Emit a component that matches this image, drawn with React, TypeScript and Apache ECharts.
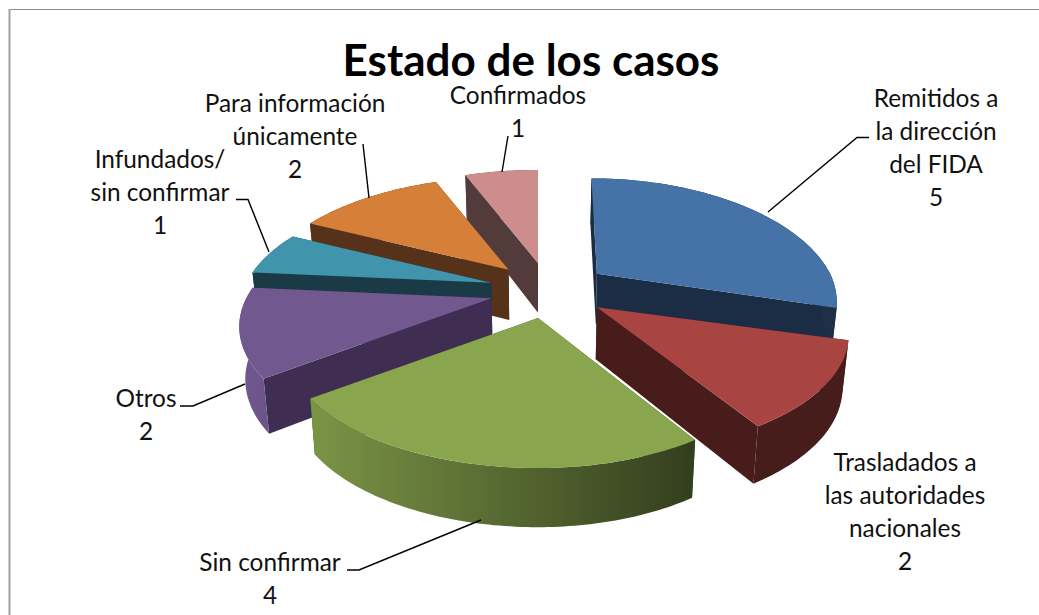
import React, { useEffect, useRef } from "react";
import * as echarts from "echarts";

const titleText = "Estado de los casos";
const categories = [
  "Remitidos a\nla dirección\ndel FIDA",
  "Trasladados a\nlas autoridades\nnacionales",
  "Sin confirmar",
  "Otros",
  "Infundados/\nsin confirmar",
  "Para información\núnicamente",
  "Confirmados",
];
const values = [5, 2, 4, 2, 1, 2, 1];

// styles
const topColors = ["#4572a7", "#a84442", "#89a54e", "#71588f", "#4095ad", "#d67f39", "#cd8d8d"];
const wallColors = ["#1b2d45", "#471c1a", "#333f1c", "#3f2e52", "#1a3a46", "#57321a", "#533a3b"];
const paintOrder = [6, 5, 4, 3, 0, 1, 2];

// label layout: centre x, first-line y, leader polyline
const labelX = [936, 905, 270, 146, 160, 295, 518];
const labelY = [98, 462, 562, 398, 159, 103, 95];
const leaders: number[][][] = [
  [[869, 137.5], [857, 137.5], [768, 212]],
  [],
  [[347, 570], [359, 570], [481, 520]],
  [[180, 406], [193, 406], [245, 384]],
  [[236, 199.5], [248, 199.5], [269, 252]],
  [[363, 144], [369, 198]],
  [[508, 136], [502, 172]],
];

// projection
const CX = 549, CY = 290.5, EX = 60, EY = 28, RY = 114.8, K = 0.2346;
const RX_LEFT = 245, RX_RIGHT = 239;
const VX = 540, SHR = 0.98, H = 51;
const total = values.reduce((a, b) => a + b, 0);
const rad = (d: number) => (d * Math.PI) / 180;

function shade(hex: string, f: number) {
  const n = parseInt(hex.slice(1), 16);
  const c = (v: number) => Math.round(v * f);
  return `rgb(${c((n >> 16) & 255)},${c((n >> 8) & 255)},${c(n & 255)})`;
}
function rimPoint(ax: number, ay: number, deg: number, mx: number, my: number) {
  const s = Math.sin(rad(deg)), c = Math.cos(rad(deg));
  const p = 1 / (1 + K * c);
  const skew = c > 0 && ax > VX ? (ax - VX) * 0.5 * (1 - p) : 0;
  return [ax - skew + s * (s < 0 ? RX_LEFT : RX_RIGHT) * p * mx, ay - c * RY * p * my];
}
function drop(pt: number[]) {
  return [VX + (pt[0] - VX) * SHR, pt[1] + H * (1 + (pt[1] - 290) * 0.0009)];
}
function wallPoly(top: number[][]) {
  return top.concat(top.map(drop).reverse());
}

function renderSlice(_: any, api: any) {
  const i = api.value(0);
  const before = values.slice(0, i).reduce((a, b) => a + b, 0);
  const a0 = (before / total) * 360;
  const a1 = ((before + values[i]) / total) * 360;
  const mid = (a0 + a1) / 2;
  const sm = Math.sin(rad(mid)), cm = Math.cos(rad(mid));
  const ax = CX + EX * sm;
  const ay = CY - EY * cm;
  const mx = 1 - 0.05 * cm * Math.max(sm, 0);
  const my = 1 + 0.05 * cm * Math.max(sm, 0);
  const apex = [ax, ay];
  const backArc: number[][] = [];
  const frontArc: number[][] = [];
  const arc: number[][] = [];
  const steps = Math.ceil(a1 - a0);
  for (let k = 0; k <= steps; k++) {
    const d = a0 + ((a1 - a0) * k) / steps;
    const p = rimPoint(ax, ay, d, mx, my);
    arc.push(p);
    if (Math.cos(rad(d)) > 0.05) backArc.push(p);
    else frontArc.push(p);
  }
  const base = topColors[i];
  const rimFill = {
    type: "linear", global: true, x: 250, y: 0, x2: 850, y2: 0,
    colorStops: [
      { offset: 0, color: shade(base, 0.98) },
      { offset: 0.733, color: shade(base, 0.38) },
      { offset: 0.845, color: shade(base, 0.423) },
      { offset: 1, color: shade(base, 0.423) },
    ],
  };
  const poly = (points: number[][], fill: any) => ({
    type: "polygon", shape: { points }, style: { fill, stroke: null },
  });
  const children: any[] = [];
  if (backArc.length > 1) children.push(poly(wallPoly(backArc), wallColors[i]));
  children.push(poly(wallPoly([apex, arc[0]]), wallColors[i]));
  children.push(poly(wallPoly([apex, arc[arc.length - 1]]), wallColors[i]));
  if (frontArc.length > 1) children.push(poly(wallPoly(frontArc), rimFill));
  children.push(poly([apex, ...arc], base));
  return { type: "group", children };
}

function renderLabel(_: any, api: any) {
  const i = api.value(0);
  const children: any[] = [];
  if (leaders[i].length) {
    children.push({
      type: "polyline", shape: { points: leaders[i] },
      style: { stroke: "#000", lineWidth: 1.4, fill: null },
    });
  }
  children.push({
    type: "text", x: labelX[i], y: labelY[i] - 16.4,
    style: {
      text: `${categories[i]}\n${values[i]}`,
      fill: "#111", font: "24.4px Lato", align: "center", verticalAlign: "top", lineHeight: 32.8,
    },
  });
  return { type: "group", children };
}

export default function App() {
  const ref = useRef<HTMLDivElement>(null);
  useEffect(() => {
    document.body.style.margin = "0";
    document.body.style.background = "#fff";
    const chart = echarts.init(ref.current!, undefined, { renderer: "svg" });
    chart.setOption({
      animation: false,
      backgroundColor: "#fff",
      title: {
        text: titleText, left: 531, top: 40, textAlign: "center", padding: 0,
        textStyle: { fontFamily: "Lato", fontWeight: "bold", fontSize: 44, lineHeight: 38, color: "#000" },
      },
      graphic: [
        { type: "line", shape: { x1: 9.5, y1: 9.5, x2: 1039, y2: 9.5 }, style: { stroke: "#8c8c8c", lineWidth: 1 } },
        { type: "line", shape: { x1: 9.5, y1: 9, x2: 9.5, y2: 615 }, style: { stroke: "#a0a0a0", lineWidth: 2 } },
      ],
      series: [
        { type: "custom", coordinateSystem: "none", z: 2, renderItem: renderSlice, silent: true,
          data: paintOrder.map((i) => [i, values[i]]) },
        { type: "custom", coordinateSystem: "none", z: 3, renderItem: renderLabel, silent: true,
          data: categories.map((_, i) => [i, values[i]]) },
      ],
    });
    return () => chart.dispose();
  }, []);
  return <div ref={ref} style={{ position: "absolute", left: 0, top: 0, width: 1039, height: 615 }} />;
}
